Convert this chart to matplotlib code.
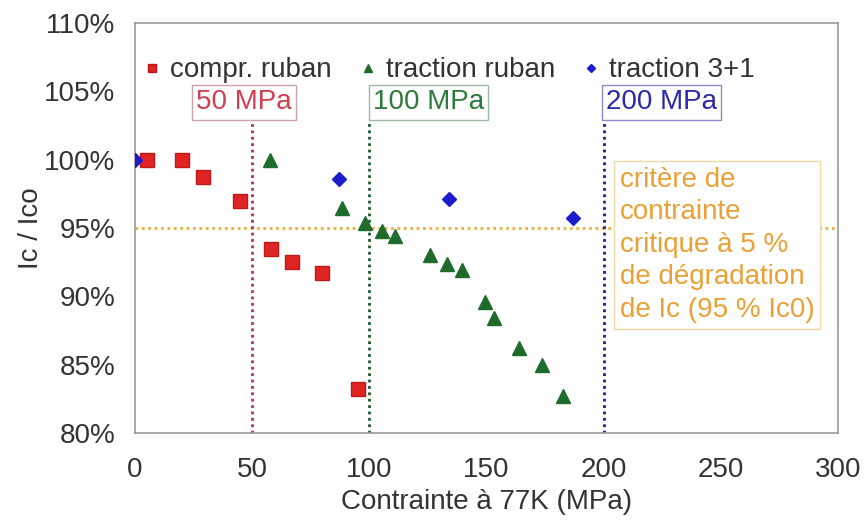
import matplotlib
matplotlib.use("Agg")
import matplotlib.pyplot as plt
from matplotlib.ticker import FuncFormatter

plt.rcParams['font.family'] = ['Liberation Sans', 'DejaVu Sans']

# Data
compr_x = [5, 20, 29, 45, 58, 67, 80, 95]
compr_y = [100.0, 100.0, 98.7, 97.0, 93.5, 92.5, 91.7, 83.2]

tract_x = [57.5, 88.5, 98, 105.5, 111, 126, 133, 139.5, 149.5, 153, 164, 173.5, 182.5]
tract_y = [100.0, 96.5, 95.4, 94.8, 94.4, 93.0, 92.4, 91.9, 89.6, 88.4, 86.2, 85.0, 82.7]

t31_x = [0, 87, 134, 187]
t31_y = [100.0, 98.6, 97.1, 95.7]

series_labels = ["compr. ruban", "traction ruban", "traction 3+1"]
limit_values = [50, 100, 200]
limit_labels = ["50 MPa", "100 MPa", "200 MPa"]
criterion = 95
criterion_text = "critère de\ncontrainte\ncritique à 5 %\nde dégradation\nde Ic (95 % Ic0)"
xticks = [0, 50, 100, 150, 200, 250, 300]
yticks = [80, 85, 90, 95, 100, 105, 110]

fig = plt.figure(figsize=(8.68, 5.26), dpi=100)
ax = fig.add_axes([0.1555, 0.177, 0.8099, 0.779])

FS = 20
red = '#e02424'
green = '#1e6b2c'
blue = '#1c1ccc'
orange = '#eab040'

# criterion line
ax.plot([0, 300], [criterion, criterion], linestyle=(0, (1, 1.3)), color=orange, lw=2, zorder=1)

# vertical limit lines
line_cols = ['#b83048', '#1d5a30', '#1c1c90']
text_cols = ['#d04050', '#2e7a3c', '#2a2aa8']
edge_cols = ['#c8a0a8', '#9cb8a0', '#8c8cc8']
text_pos = [(26, 104.2), (101.5, 104.2), (201, 104.2)]
for v, lab, lc, tc, ec, (tx, ty) in zip(limit_values, limit_labels, line_cols, text_cols, edge_cols, text_pos):
    ax.plot([v, v], [80, 102.7], linestyle=(0, (1, 1.3)), color=lc, lw=2, zorder=2)
    ax.text(tx, ty, lab, color=tc, fontsize=FS, ha='left', va='center',
            bbox=dict(boxstyle='square,pad=0.15', fc='white', ec=ec, lw=1), zorder=3)

# data
ax.plot(compr_x, compr_y, 's', color=red, mec='#c01818', ms=9.5, label=series_labels[0], zorder=4)
ax.plot(tract_x, tract_y, '^', color=green, mec=green, ms=10, label=series_labels[1], zorder=4)
ax.plot(t31_x, t31_y, 'D', color=blue, mec=blue, ms=7.5, label=series_labels[2], zorder=5)

# criterion text
ax.text(207, 99.5, criterion_text, color='#eba035', fontsize=FS, ha='left', va='top',
        linespacing=1.33,
        bbox=dict(boxstyle='square,pad=0.2', fc='white', ec='#f0d8a8', lw=1), zorder=3)

ax.set_xlim(0, 300)
ax.set_ylim(80, 110)
ax.set_xticks(xticks)
ax.set_yticks(yticks)
ax.yaxis.set_major_formatter(FuncFormatter(lambda v, p: f"{v:.0f}%"))
ax.tick_params(axis='both', labelsize=FS, colors='#333333', length=0)
ax.tick_params(axis='x', pad=17)
ax.tick_params(axis='y', pad=14)
for s in ax.spines.values():
    s.set_color('#999999')
    s.set_linewidth(1.2)

ax.set_xlabel("Contrainte à 77K (MPa)", fontsize=FS, color='#333333', labelpad=5)
ax.set_ylabel("Ic / Ico", fontsize=FS, color='#333333', labelpad=0)

leg = ax.legend(loc='center', bbox_to_anchor=(0.447, 0.885), ncol=3, frameon=False,
                fontsize=FS, markerscale=0.6, handlelength=0.6, handletextpad=0.35,
                columnspacing=1.0, borderpad=0)
for t in leg.get_texts():
    t.set_color('#333333')

fig.savefig("out.png", dpi=100)
